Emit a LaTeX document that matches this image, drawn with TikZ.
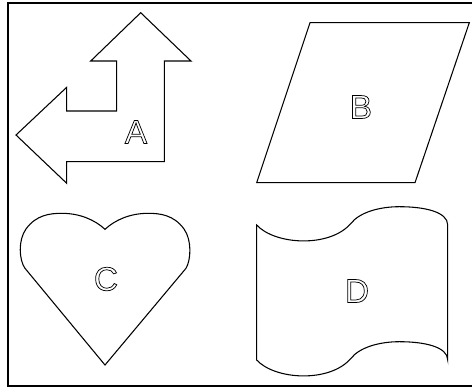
\documentclass[tikz,border=0pt]{standalone}
\usepackage{fontspec}
\setmainfont{Liberation Sans}
\newcommand{\outlinetext}[1]{\special{pdf:literal direct 1 Tr}#1\special{pdf:literal direct 0 Tr}}
\tikzset{
  figline/.style={draw=black, line width=0.8pt, line join=miter},
  lbl/.style={font=\fontsize{25}{25}\selectfont, line width=0.55pt, inner sep=0pt, text=black}
}
\begin{document}
\begin{tikzpicture}[x=0.75pt,y=-0.75pt]
\useasboundingbox (0,0) rectangle (472,387);
\fill[white] (0,0) rectangle (472,387);
\draw[line width=1.5pt] (480,3) -- (8,3) -- (8,386) -- (480,386);
% A: bent double arrow
\draw[figline] (140.7,12.7) -- (191,61) -- (164.3,61) -- (164.3,161.7) -- (66.7,161.7)
  -- (66.7,183.3) -- (16,135) -- (66.7,87.3) -- (66.7,111) -- (116.7,111)
  -- (116.7,61) -- (90.7,61) -- cycle;
% B: parallelogram
\draw[figline] (310,22.7) -- (469.3,22.7) -- (415,182.7) -- (256.7,182.7) -- cycle;
% C: heart
\draw[figline] (105,365) -- (25,268.3)
  .. controls (19,260) and (18,240) .. (26,229)
  .. controls (36,215) and (50,213.3) .. (61.7,213.3)
  .. controls (80,213.3) and (95,220) .. (105,229.3)
  .. controls (115,220) and (130,213.3) .. (148.3,213.3)
  .. controls (160,213.3) and (174,215) .. (184,229)
  .. controls (192,240) and (191,260) .. (186,268.3) -- cycle;
% D: punched tape
\draw[figline] (256.7,225) .. controls (275,245) and (330,248) .. (351,223.3)
  .. controls (360,212) and (380,206.7) .. (399.3,206.7)
  .. controls (425,206.7) and (447.7,212) .. (447.7,225)
  -- (447.7,360)
  .. controls (447.7,347) and (425,341.7) .. (399.3,341.7)
  .. controls (380,341.7) and (360,347) .. (351,358.3)
  .. controls (330,383) and (275,380) .. (256.7,360) -- cycle;
\node[lbl] (la) at (136,132) {\outlinetext{A}};
\node[lbl] (lb) at (361,107) {\outlinetext{B}};
\node[lbl] (lc) at (106,279) {\outlinetext{C}};
\node[lbl] (ld) at (357,291) {\outlinetext{D}};
\end{tikzpicture}
\end{document}
